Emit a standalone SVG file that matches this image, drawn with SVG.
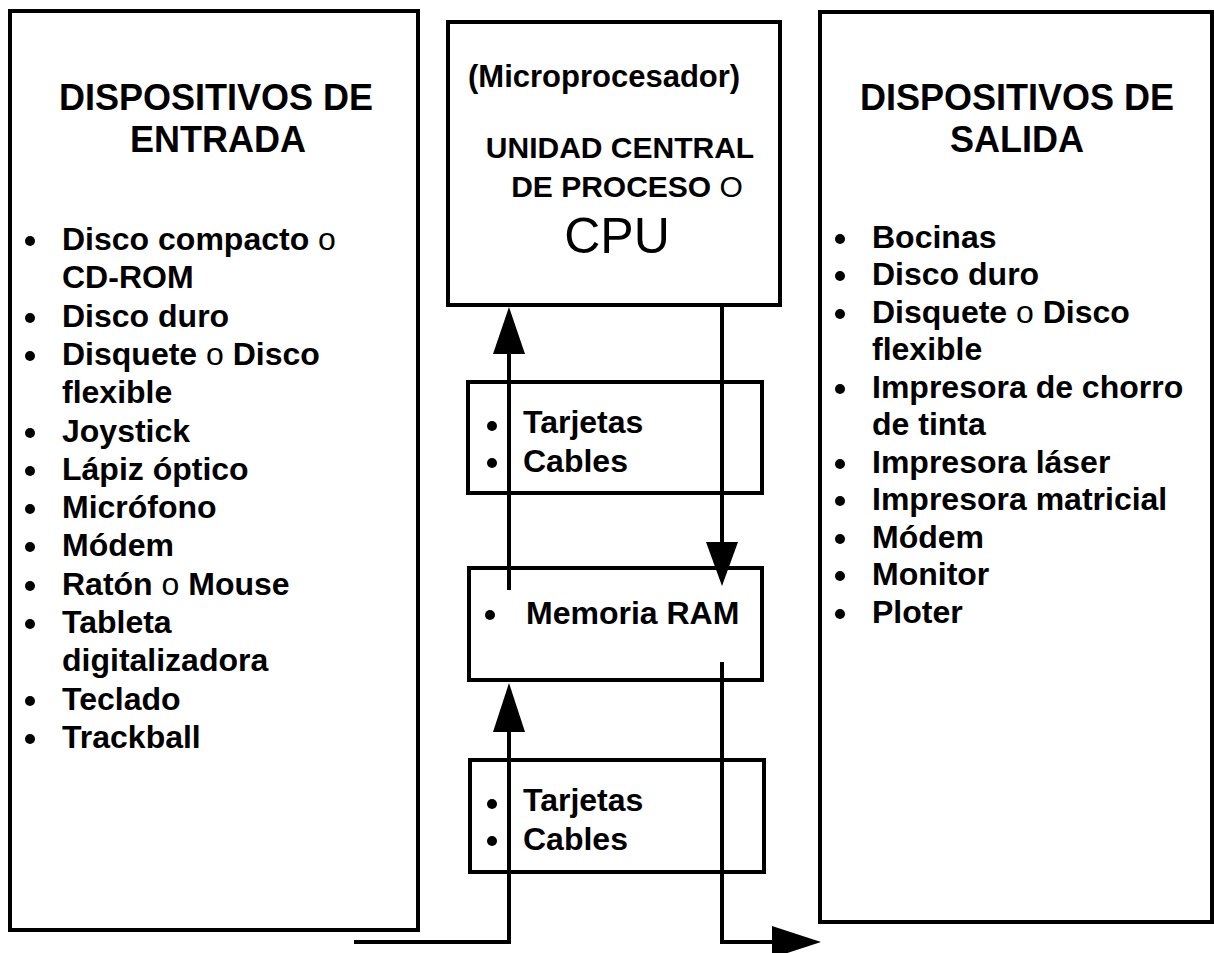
<svg xmlns="http://www.w3.org/2000/svg" width="1214" height="953" viewBox="0 0 1214 953">
<style>
.box{fill:#fff;stroke:#000;stroke-width:4}
.t{font-family:"Liberation Sans",Arial,sans-serif;font-weight:bold;fill:#000}
.title{font-size:36px;text-anchor:middle}
.li{font-size:32px}
.n{font-weight:normal}
.ln{fill:none;stroke:#000;stroke-width:4}
</style>
<rect width="1214" height="953" fill="#fff"/>

<g id="entrada">
<rect class="box" x="10" y="11" width="408" height="919"/>
<text class="t title" x="216" y="110">DISPOSITIVOS DE</text>
<text class="t title" x="218" y="152">ENTRADA</text>
<g fill="#000">
<circle cx="30" cy="241" r="5"/><circle cx="30" cy="318" r="5"/><circle cx="30" cy="356" r="5"/>
<circle cx="30" cy="433" r="5"/><circle cx="30" cy="471" r="5"/><circle cx="30" cy="509" r="5"/>
<circle cx="30" cy="547" r="5"/><circle cx="30" cy="586" r="5"/><circle cx="30" cy="624" r="5"/>
<circle cx="30" cy="701" r="5"/><circle cx="30" cy="739" r="5"/>
</g>
<text class="t li" x="62" y="250">Disco compacto <tspan class="n">o</tspan></text>
<text class="t li" x="62" y="288">CD-ROM</text>
<text class="t li" x="62" y="327">Disco duro</text>
<text class="t li" x="62" y="365">Disquete <tspan class="n">o</tspan> Disco</text>
<text class="t li" x="62" y="403">flexible</text>
<text class="t li" x="62" y="442">Joystick</text>
<text class="t li" x="62" y="480">Lápiz óptico</text>
<text class="t li" x="62" y="518">Micrófono</text>
<text class="t li" x="62" y="556">Módem</text>
<text class="t li" x="62" y="595">Ratón <tspan class="n">o</tspan> Mouse</text>
<text class="t li" x="62" y="633">Tableta</text>
<text class="t li" x="62" y="671">digitalizadora</text>
<text class="t li" x="62" y="710">Teclado</text>
<text class="t li" x="62" y="748">Trackball</text>
</g>

<g id="cpu">
<rect class="box" x="448" y="22" width="332" height="283"/>
<text class="t" x="468" y="87" font-size="31">(Microprocesador)</text>
<text class="t" x="620" y="158" font-size="30" text-anchor="middle">UNIDAD CENTRAL</text>
<text class="t" x="627" y="197" font-size="30" text-anchor="middle">DE PROCESO <tspan class="n">O</tspan></text>
<text class="t n" x="617" y="253" font-size="50" text-anchor="middle">CPU</text>
</g>

<g id="tarjetas1">
<rect class="box" x="468" y="382" width="294" height="111"/>
<circle cx="492" cy="426" r="5"/><circle cx="492" cy="463" r="5"/>
<text class="t li" x="523" y="433">Tarjetas</text>
<text class="t li" x="523" y="472">Cables</text>
</g>

<g id="ram">
<rect class="box" x="469" y="568" width="293" height="112"/>
<circle cx="490" cy="615" r="5"/>
<text class="t li" x="526" y="624">Memoria RAM</text>
</g>

<g id="tarjetas2">
<rect class="box" x="470" y="760" width="294" height="112"/>
<circle cx="492" cy="804" r="5"/><circle cx="492" cy="841" r="5"/>
<text class="t li" x="523" y="811">Tarjetas</text>
<text class="t li" x="523" y="850">Cables</text>
</g>

<g id="salida">
<rect class="box" x="820" y="12" width="392" height="910"/>
<text class="t title" x="1017" y="110">DISPOSITIVOS DE</text>
<text class="t title" x="1017" y="152">SALIDA</text>
<g fill="#000">
<circle cx="840" cy="239" r="5"/><circle cx="840" cy="276" r="5"/><circle cx="840" cy="314" r="5"/>
<circle cx="840" cy="389" r="5"/><circle cx="840" cy="464" r="5"/><circle cx="840" cy="501" r="5"/>
<circle cx="840" cy="539" r="5"/><circle cx="840" cy="576" r="5"/><circle cx="840" cy="614" r="5"/>
</g>
<text class="t li" x="872" y="248">Bocinas</text>
<text class="t li" x="872" y="285">Disco duro</text>
<text class="t li" x="872" y="323">Disquete <tspan class="n">o</tspan> Disco</text>
<text class="t li" x="872" y="360">flexible</text>
<text class="t li" x="872" y="398">Impresora de chorro</text>
<text class="t li" x="872" y="435">de tinta</text>
<text class="t li" x="872" y="473">Impresora láser</text>
<text class="t li" x="872" y="510">Impresora matricial</text>
<text class="t li" x="872" y="548">Módem</text>
<text class="t li" x="872" y="585">Monitor</text>
<text class="t li" x="872" y="623">Ploter</text>
</g>

<g id="connectors">
<path class="ln" d="M509,590 V350"/>
<path d="M493,354 L509,307 L525,354 Z"/>
<path class="ln" d="M722,305 V545"/>
<path d="M706,542 L722,586 L738,542 Z"/>
<path class="ln" d="M354,942 H509 V728"/>
<path d="M493,732 L509,683 L525,732 Z"/>
<path class="ln" d="M722,662 V942 H776"/>
<path d="M772,926 L821,942 L772,958 Z"/>
</g>
</svg>
